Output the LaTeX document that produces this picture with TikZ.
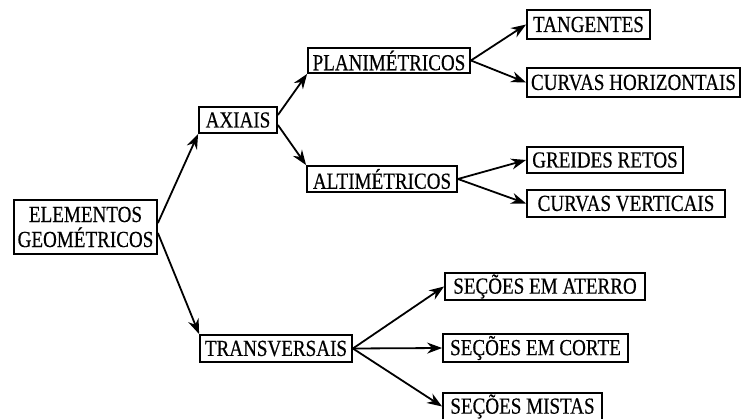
\documentclass[tikz,border=0pt]{standalone}
\usepackage{fontspec}
\setmainfont{Liberation Serif}
\newfontfamily\dfont[FakeStretch=0.83,FakeBold=0.4]{Liberation Serif}
\usetikzlibrary{arrows.meta}
\begin{document}
\begin{tikzpicture}[x=1pt,y=-1pt,
  box/.style={draw=black,line width=1.8pt,inner sep=0pt,font=\dfont\fontsize{23}{24}\selectfont,align=center},
  arr/.style={line width=1.8pt,-{Stealth[length=15pt,width=11pt]}}]
\useasboundingbox[fill=white] (0,0) rectangle (743,419);
\node[box,minimum width=143pt,minimum height=54pt] (E) at (85.5,227) {ELEMENTOS\\[1pt]GEOMÉTRICOS};
\node[box,minimum width=78pt,minimum height=26pt] (AX) at (238,120) {AXIAIS};
\node[box,minimum width=162pt,minimum height=25pt] (PL) at (389,60.5) {PLANIMÉTRICOS};
\node[box,minimum width=150pt,minimum height=26pt] (AL) at (382,179) {ALTIMÉTRICOS};
\node[box,minimum width=123pt,minimum height=29pt] (TG) at (588.5,24.5) {TANGENTES};
\node[box,minimum width=213pt,minimum height=29pt] (CH) at (633.5,82.5) {CURVAS HORIZONTAIS};
\node[box,minimum width=156pt,minimum height=26pt] (GR) at (605,160) {GREIDES RETOS};
\node[box,minimum width=198pt,minimum height=27pt] (CV) at (626,203.5) {CURVAS VERTICAIS};
\node[box,minimum width=152pt,minimum height=27pt] (TR) at (276,348.5) {TRANSVERSAIS};
\node[box,minimum width=200pt,minimum height=27pt] (SA) at (545,286.5) {SEÇÕES EM ATERRO};
\node[box,minimum width=185pt,minimum height=28pt] (SC) at (535.5,348) {SEÇÕES EM CORTE};
\node[box,minimum width=159pt,minimum height=27pt] (SM) at (522.5,406.5) {SEÇÕES MISTAS};
\draw[arr] ([yshift=4pt]E.east) -- (AX.south west);
\draw[arr] ([yshift=-6pt]E.east) -- (TR.north west);
\draw[arr] ([yshift=5pt]AX.east) -- (PL.south west);
\draw[arr] ([yshift=-5pt]AX.east) -- (AL.north west);
\draw[arr] (PL.east) -- (TG.west);
\draw[arr] (PL.east) -- (CH.west);
\draw[arr] (AL.east) -- (GR.west);
\draw[arr] (AL.east) -- (CV.west);
\draw[arr] (TR.east) -- (SA.west);
\draw[arr] (TR.east) -- (SC.west);
\draw[arr] (TR.east) -- (SM.west);
\end{tikzpicture}
\end{document}
